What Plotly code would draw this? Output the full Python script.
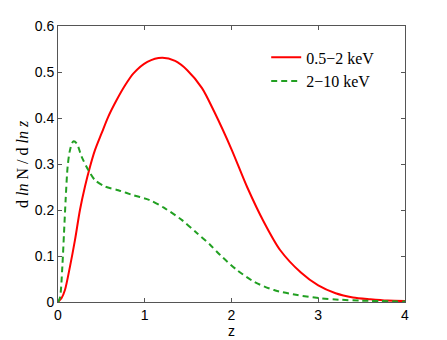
import plotly.graph_objects as go

# redshift grid and curves
z_soft = [0, 0.04, 0.08, 0.138, 0.196, 0.253, 0.311, 0.369, 0.426, 0.503, 0.58, 0.676, 0.77, 0.87, 1.03, 1.2,
          1.35, 1.49, 1.66, 1.8, 2.0, 2.18, 2.37, 2.56, 2.8, 3.0, 3.2, 3.4, 3.6, 3.8, 4.0]
dn_soft = [0, 0.008, 0.026, 0.077, 0.135, 0.2, 0.251, 0.294, 0.33, 0.367, 0.403, 0.439, 0.47, 0.497, 0.522, 0.531,
           0.524, 0.504, 0.465, 0.414, 0.332, 0.25, 0.175, 0.113, 0.064, 0.036, 0.019, 0.010, 0.006, 0.003, 0.002]

z_hard = [0, 0.023, 0.05, 0.069, 0.088, 0.111, 0.138, 0.176, 0.215, 0.272, 0.349, 0.426, 0.542, 0.695,
          0.87, 1.05, 1.22, 1.43, 1.6, 1.75, 1.87, 2.06, 2.26, 2.49, 2.76, 3.03, 3.24, 3.5, 4.0]
dn_hard = [0, 0.01, 0.077, 0.149, 0.222, 0.294, 0.33, 0.349, 0.345, 0.316, 0.287, 0.265, 0.251, 0.243,
           0.232, 0.222, 0.205, 0.178, 0.15, 0.125, 0.102, 0.07, 0.044, 0.026, 0.015, 0.008, 0.005, 0.003, 0.001]

x_ticks = [0, 1, 2, 3, 4]
y_ticks = [0, 0.1, 0.2, 0.3, 0.4, 0.5, 0.6]
y_labels = ["0", "0.1", "0.2", "0.3", "0.4", "0.5", "0.6"]

fig = go.Figure()
fig.add_trace(go.Scatter(x=z_soft, y=dn_soft, mode="lines", name="0.5\u22122 keV",
                         line=dict(color="#ff0000", width=2, shape="spline", smoothing=0.8)))
fig.add_trace(go.Scatter(x=z_hard, y=dn_hard, mode="lines", name="2\u221210 keV",
                         line=dict(color="#22a022", width=2, shape="spline", smoothing=0.8, dash="6px,4px")))

axis_style = dict(showline=True, linecolor="#555555", linewidth=1, mirror="ticks",
                  ticks="inside", ticklen=4, tickcolor="#555555", showgrid=False, zeroline=False,
                  automargin=False,
                  tickfont=dict(family="Liberation Sans, Arial", size=14, color="black"))

fig.update_layout(
    width=447, height=340,
    margin=dict(l=58, r=42, t=26, b=38),
    plot_bgcolor="white", paper_bgcolor="white",
    xaxis=dict(range=[0, 4], tickvals=x_ticks,
               title=dict(text="z", standoff=2, font=dict(family="Liberation Sans, Arial", size=14, color="black")),
               **axis_style),
    yaxis=dict(range=[0, 0.6], tickvals=y_ticks, ticktext=y_labels, **axis_style),
    legend=dict(x=0.6, y=0.948, xanchor="left", yanchor="top", bgcolor="rgba(0,0,0,0)",
                font=dict(family="Liberation Serif, Times New Roman", size=16, color="black"),
                tracegroupgap=0, itemwidth=30),
    showlegend=True,
)

# y label placed by hand, matlab style
fig.add_annotation(text="d <i>ln</i> N / d <i>ln z</i>", textangle=-90,
                   xref="paper", yref="paper", x=-0.104, y=0.5, showarrow=False,
                   xanchor="center", yanchor="middle",
                   font=dict(family="Liberation Serif, Times New Roman", size=16, color="black"))

# the page body has a default 8px margin; drop it so the figure sits at the corner
fig.write_html("out.html", config={"displayModeBar": False},
               post_script="document.body.style.margin='0';")
